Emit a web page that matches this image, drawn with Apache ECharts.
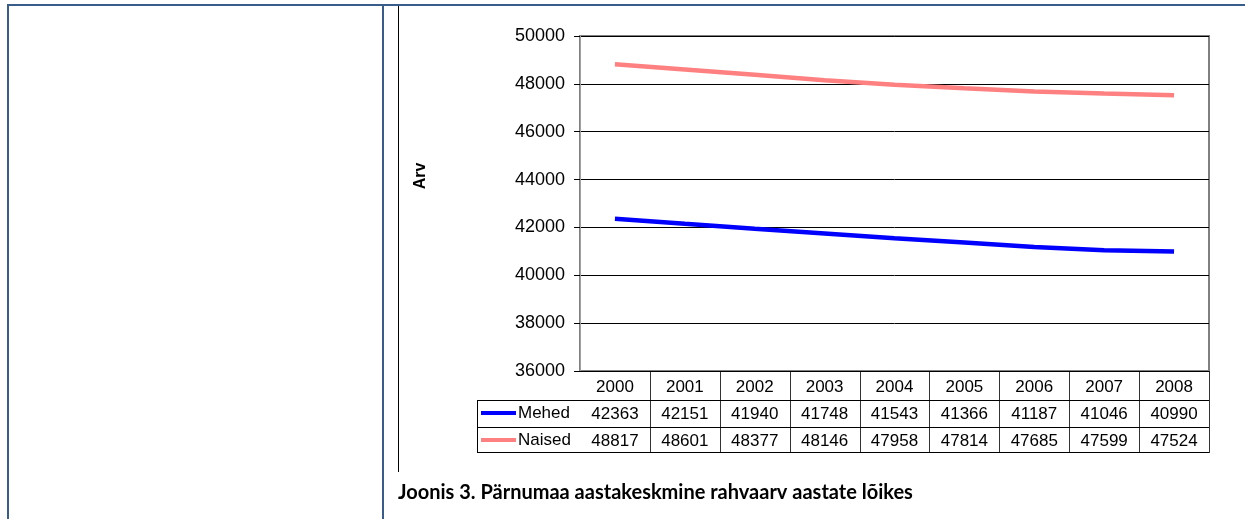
<!DOCTYPE html>
<html>
<head>
<meta charset="utf-8">
<script src="https://cdn.jsdelivr.net/npm/echarts@6/dist/echarts.min.js"></script>
<style>
  html, body { margin: 0; padding: 0; background: #fff; }
  #chart { width: 1245px; height: 519px; }
</style>
</head>
<body>
<div id="chart"></div>
<script>
// aastad
var years = ['2000', '2001', '2002', '2003', '2004', '2005', '2006', '2007', '2008']
// mehed / naised
var mehed = [42363, 42151, 41940, 41748, 41543, 41366, 41187, 41046, 40990]
var naised = [48817, 48601, 48377, 48146, 47958, 47814, 47685, 47599, 47524]
var seriesNames = ['Mehed', 'Naised']
var seriesColors = ['#0000ff', '#ff8080']

var yTitle = 'Arv'
var caption = 'Joonis 3. Pärnumaa aastakeskmine rahvaarv aastate lõikes'

var font = "'Liberation Sans', Arial, sans-serif"

// plot area
var gLeft = 580
var gRight = 1209
var gTop = 36
var gBottom = 371
var rowH = 27
var tableLeft = 477

var chart = echarts.init(document.getElementById('chart'))

function buildGraphics() {
  var els = []
  var frame = '#385d8a'
  // page table frame
  els.push({ type: 'line', shape: { x1: 7, y1: 5, x2: 1245, y2: 5 }, style: { stroke: frame, lineWidth: 2 } })
  els.push({ type: 'line', shape: { x1: 8, y1: 5, x2: 8, y2: 519 }, style: { stroke: frame, lineWidth: 2 } })
  els.push({ type: 'line', shape: { x1: 383, y1: 5, x2: 383, y2: 519 }, style: { stroke: frame, lineWidth: 2 } })
  els.push({ type: 'line', shape: { x1: 398.5, y1: 6, x2: 398.5, y2: 472 }, style: { stroke: '#000', lineWidth: 1 } })

  // data table lines
  var colW = (gRight - gLeft) / years.length
  for (var i = 1; i <= years.length; i++) {
    var x = Math.round(gLeft + i * colW) + 0.5
    els.push({ type: 'line', shape: { x1: x, y1: gBottom, x2: x, y2: gBottom + 3 * rowH + 1 }, style: { stroke: '#333', lineWidth: 1 } })
  }
  for (var r = 1; r <= 3; r++) {
    var y = gBottom + r * rowH + 2.5
    if (r === 3) y = gBottom + 3 * rowH + 0.5
    els.push({ type: 'line', shape: { x1: tableLeft, y1: y, x2: gRight, y2: y }, style: { stroke: '#000', lineWidth: 1 } })
  }
  els.push({ type: 'line', shape: { x1: tableLeft + 0.5, y1: gBottom + rowH + 2, x2: tableLeft + 0.5, y2: gBottom + 3 * rowH + 1 }, style: { stroke: '#000', lineWidth: 1 } })

  // y axis title
  els.push({
    type: 'text', x: 421, y: 176, rotation: Math.PI / 2,
    style: { text: yTitle, font: 'bold 16px ' + font, fill: '#000', align: 'center', verticalAlign: 'middle' }
  })
  // caption
  els.push({
    type: 'text', x: 398, y: 493,
    style: { text: caption, font: "bold 20px Lato, 'Open Sans', sans-serif", fill: '#000', align: 'left', verticalAlign: 'middle' }
  })
  return els
}

chart.setOption({
  animation: false,
  backgroundColor: '#fff',
  grid: {
    left: gLeft,
    right: 1245 - gRight,
    top: gTop,
    bottom: 519 - gBottom,
    show: true,
    borderColor: '#808080',
    borderWidth: 2
  },
  legend: {
    orient: 'vertical',
    left: 481,
    top: gBottom + rowH + 5,
    padding: 0,
    itemGap: 7,
    itemWidth: 35,
    itemHeight: 4,
    icon: 'rect',
    data: seriesNames,
    textStyle: { fontFamily: font, fontSize: 17, color: '#000', lineHeight: 20, padding: [0, 0, 0, -3] }
  },
  xAxis: {
    type: 'category',
    data: years,
    boundaryGap: true,
    axisLine: { lineStyle: { color: '#000', width: 1 } },
    axisTick: { show: false },
    axisLabel: {
      interval: 0,
      margin: 3,
      fontFamily: font,
      fontSize: 17,
      color: '#000',
      lineHeight: rowH,
      formatter: function (val, idx) {
        return val + '\n' + mehed[idx] + '\n' + naised[idx]
      }
    }
  },
  yAxis: {
    type: 'value',
    min: 36000,
    max: 50000,
    interval: 2000,
    axisLine: { show: true, lineStyle: { color: '#a0a0a0', width: 1 } },
    axisTick: { show: true, length: 6, lineStyle: { color: '#000' } },
    axisLabel: {
      margin: 15,
      fontFamily: font,
      fontSize: 18,
      color: '#000',
      formatter: function (v) { return String(v) }
    },
    splitLine: { lineStyle: { color: '#000', width: 1 } }
  },
  series: [
    {
      name: seriesNames[0],
      type: 'line',
      data: mehed,
      showSymbol: false,
      itemStyle: { color: seriesColors[0] },
      lineStyle: { color: seriesColors[0], width: 4.5 }
    },
    {
      name: seriesNames[1],
      type: 'line',
      data: naised,
      showSymbol: false,
      itemStyle: { color: seriesColors[1] },
      lineStyle: { color: seriesColors[1], width: 4.5 }
    }
  ],
  graphic: buildGraphics()
})
</script>
</body>
</html>
